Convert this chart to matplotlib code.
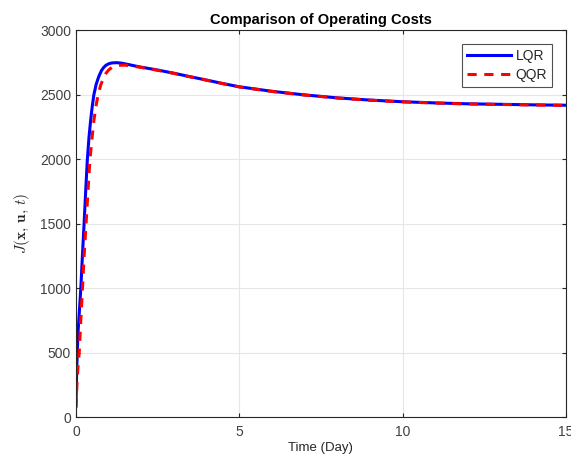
import matplotlib
matplotlib.use("Agg")
import matplotlib.pyplot as plt

plt.rcParams['font.family'] = ['Liberation Sans', 'DejaVu Sans']
plt.rcParams['mathtext.fontset'] = 'cm'

# LQR series (time in days, cost)
t_lqr = [0, 0.02, 0.04, 0.07, 0.1, 0.15, 0.2, 0.25, 0.3, 0.35, 0.4, 0.45, 0.5, 0.55,
         0.62, 0.7, 0.78, 0.85, 0.92, 1.0, 1.1, 1.25, 1.4, 1.6, 1.8, 2.0, 2.5, 3.0, 3.5, 4.0,
         4.5, 5.0, 6.0, 7.0, 8.0, 9.0, 10.0, 11.0, 12.0, 13.0, 14.0, 15.0]
j_lqr = [90, 330, 500, 680, 800, 1000, 1260, 1500, 1760, 2000, 2170, 2300, 2410, 2500,
         2580, 2640, 2685, 2710, 2727, 2738, 2745, 2747, 2743, 2733, 2722, 2712, 2690, 2665,
         2638, 2612, 2585, 2560, 2525, 2497, 2474, 2457, 2444, 2435, 2428, 2424, 2420, 2417]

# QQR series
t_qqr = [0, 0.03, 0.06, 0.1, 0.15, 0.2, 0.25, 0.31, 0.37, 0.43, 0.5, 0.55, 0.62, 0.68,
         0.76, 0.85, 0.92, 1.0, 1.1, 1.2, 1.35, 1.5, 1.7, 2.0, 2.5, 3.0, 3.5, 4.0,
         4.5, 5.0, 6.0, 7.0, 8.0, 9.0, 10.0, 11.0, 12.0, 13.0, 14.0, 15.0]
j_qqr = [70, 250, 380, 500, 760, 1000, 1250, 1500, 1760, 2000, 2180, 2300, 2420, 2500,
         2575, 2630, 2665, 2690, 2710, 2720, 2727, 2728, 2722, 2710, 2688, 2664,
         2637, 2611, 2584, 2559, 2524, 2496, 2473, 2456, 2443, 2434, 2427, 2423, 2419, 2416]

x_ticks = [0, 5, 10, 15]
y_ticks = [0, 500, 1000, 1500, 2000, 2500, 3000]

fig = plt.figure(figsize=(5.71, 4.62), dpi=100)
ax = fig.add_axes([0.133, 0.0974, 0.858, 0.8376])

ax.plot(t_lqr, j_lqr, color='#0000ff', linewidth=2.2, label='LQR')
ax.plot(t_qqr, j_qqr, color='#ff0000', linewidth=2.2, linestyle=(0, (3, 2.5)), label='QQR')

ax.set_xlim(0, 15)
ax.set_ylim(0, 3000)
ax.set_xticks(x_ticks)
ax.set_yticks(y_ticks)
ax.grid(True, color='#e6e6e6', linewidth=0.8)
ax.set_axisbelow(True)

for s in ax.spines.values():
    s.set_color('#262626')
    s.set_linewidth(0.8)
ax.tick_params(direction='in', length=3, colors='#262626', labelsize=10,
               top=True, right=True, width=0.8)
ax.tick_params(axis='x', pad=6)
for lbl in ax.get_xticklabels() + ax.get_yticklabels():
    lbl.set_color('#404040')

ax.set_title('Comparison of Operating Costs', fontsize=10.5, fontweight='bold', pad=4)
ax.set_xlabel('Time (Day)', fontsize=9.5, color='#262626', labelpad=2)
ax.set_ylabel(r'$J(\mathbf{x},\,\mathbf{u},\,t)$', fontsize=11, color='#262626', labelpad=6)

leg = ax.legend(loc='upper right', fontsize=10, frameon=True, fancybox=False,
                edgecolor='#262626', handlelength=3.2, borderaxespad=1.0,
                handletextpad=0.3, labelspacing=0.4, borderpad=0.35)
leg.get_frame().set_linewidth(0.8)
for t in leg.get_texts():
    t.set_color('#262626')

fig.savefig('out.png', dpi=100)
